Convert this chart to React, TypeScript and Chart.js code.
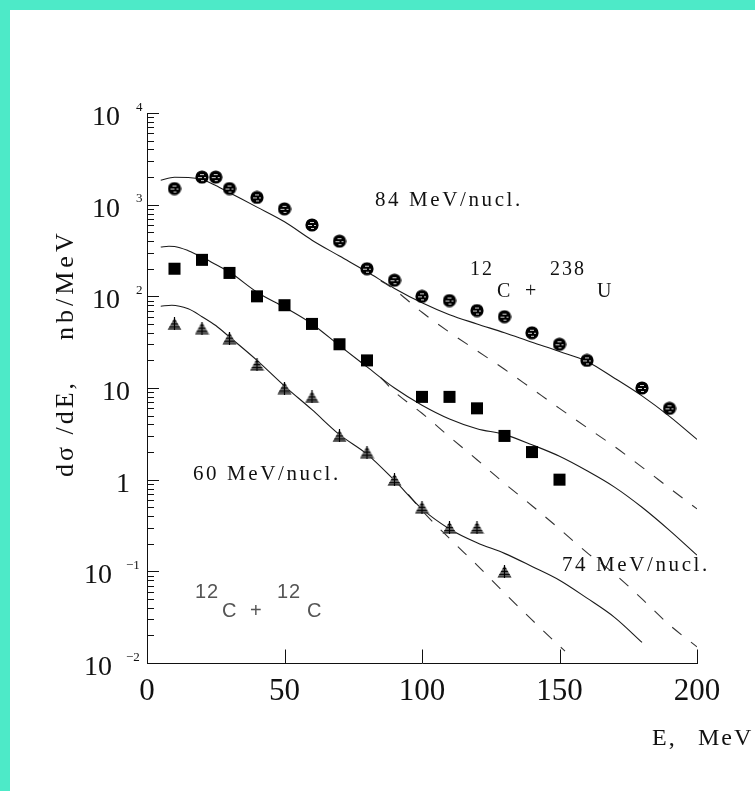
import React, { useEffect, useRef } from 'react';
import { Chart, registerables } from 'chart.js';
Chart.register(...registerables);

// ---- measured data points ----
const circleE = [10, 20, 25, 30, 40, 50, 60, 70, 80, 90, 100, 110, 120, 130, 140, 150, 160, 180, 190];
const circleV = [1500, 2000, 2000, 1500, 1200, 900, 600, 400, 200, 150, 100, 90, 70, 60, 40, 30, 20, 10, 6];
const squareE = [10, 20, 30, 40, 50, 60, 70, 80, 100, 110, 120, 130, 140, 150];
const squareV = [200, 250, 180, 100, 80, 50, 30, 20, 8, 8, 6, 3, 2, 1];
const triE = [10, 20, 30, 40, 50, 60, 70, 80, 90, 100, 110, 120, 130];
const triV = [50, 45, 35, 18, 10, 8, 3, 2, 1, 0.5, 0.3, 0.3, 0.1];

// ---- calculated curves (solid) ----
const topSolidE = [5, 10, 15, 20, 25, 30, 40, 50, 60, 70, 80, 90, 100, 110, 120, 130, 140, 150, 160, 170, 180, 190, 200];
const topSolidV = [1850, 1990, 1980, 1880, 1620, 1350, 940, 650, 410, 275, 185, 122, 85, 63, 50, 40, 31.5, 25, 19.5, 12.8, 8.2, 4.9, 2.75];
const midSolidE = [5, 8, 10, 15, 20, 25, 30, 40, 50, 60, 70, 80, 90, 100, 110, 120, 130, 140, 150, 160, 170, 180, 190, 200];
const midSolidV = [345, 352, 350, 315, 268, 222, 184, 111, 76, 50, 29, 17, 10, 6.5, 4.6, 3.6, 3.1, 2.4, 1.8, 1.25, 0.83, 0.5, 0.28, 0.15];
const lowSolidE = [5, 9, 15, 20, 25, 30, 40, 50, 60, 70, 80, 90, 100, 110, 120, 130, 140, 150, 160, 170, 180];
const lowSolidV = [78, 80, 73, 60, 48, 36, 20, 10.5, 5.8, 3.1, 1.9, 0.98, 0.48, 0.29, 0.205, 0.157, 0.113, 0.08, 0.051, 0.0315, 0.0168];

// ---- calculated curves (dashed) ----
const topDashE = [85, 90, 100, 110, 120, 130, 140, 150, 160, 170, 180, 190, 200];
const topDashV = [148, 118, 67, 40.5, 25.5, 16, 9.8, 6, 3.7, 2.3, 1.37, 0.81, 0.48];
const midDashE = [85, 90, 100, 110, 120, 130, 140, 150, 160, 170, 180, 190, 200];
const midDashV = [13, 9.1, 5.3, 2.94, 1.65, 0.91, 0.52, 0.29, 0.16, 0.094, 0.05, 0.026, 0.015];
const lowDashE = [95, 100, 110, 120, 130, 140, 150, 152];
const lowDashV = [0.69, 0.46, 0.228, 0.117, 0.058, 0.0295, 0.0153, 0.0135];

// ---- axis ticks ----
const yTickValues = [0.01, 0.1, 1, 10, 100, 1000, 10000];
const yTickBase = ['10', '10', '1', '10', '10', '10', '10'];
const yTickExp = ['\u22122', '\u22121', '', '', '2', '3', '4'];
const xTickValues = [0, 50, 100, 150, 200];
const xTickLabels = ['0', '50', '100', '150', '200'];

const SERIF = '"Liberation Serif", "Times New Roman", serif';
const SANS = '"Liberation Sans", Arial, sans-serif';

const pts = (xs: number[], ys: number[]) => xs.map((x, i) => ({ x, y: ys[i] }));

function makeCircle(): HTMLCanvasElement {
  const c = document.createElement('canvas');
  c.width = 14; c.height = 14;
  const g = c.getContext('2d')!;
  g.fillStyle = '#000';
  g.beginPath(); g.arc(7, 7, 6.6, 0, Math.PI * 2); g.fill();
  g.fillStyle = '#d0d0d0';
  const stripes = [[5, 4, 4], [3, 7, 4], [9, 7, 2], [6, 10, 3]];
  for (const [x, y, w] of stripes) g.fillRect(x, y, w, 1);
  return c;
}

function makeTriangle(): HTMLCanvasElement {
  const c = document.createElement('canvas');
  c.width = 15; c.height = 13;
  const g = c.getContext('2d')!;
  g.beginPath();
  g.moveTo(7.5, 0.5); g.lineTo(14.5, 12.5); g.lineTo(0.5, 12.5); g.closePath();
  g.fillStyle = '#6a6a6a'; g.fill();
  g.save(); g.clip();
  g.strokeStyle = '#000'; g.lineWidth = 1;
  for (const y of [3.5, 6.5, 9.5, 12]) {
    g.beginPath(); g.moveTo(0, y); g.lineTo(15, y); g.stroke();
  }
  g.beginPath(); g.moveTo(7.5, 0); g.lineTo(7.5, 13); g.stroke();
  g.restore();
  g.strokeStyle = '#000'; g.lineWidth = 1.2; g.stroke();
  return c;
}

const framePlugin = {
  id: 'frame',
  beforeDraw(chart: any) {
    const ctx = chart.ctx;
    ctx.save();
    ctx.fillStyle = '#4deac8';
    ctx.fillRect(0, 0, chart.width, chart.height);
    ctx.fillStyle = '#ffffff';
    ctx.fillRect(10, 10, chart.width - 10, chart.height - 10);
    ctx.restore();
  },
  afterDraw(chart: any) {
    const ctx = chart.ctx;
    const xs = chart.scales.x;
    const ys = chart.scales.y;
    const left = chart.chartArea.left;
    const bottom = chart.chartArea.bottom;
    ctx.save();
    ctx.strokeStyle = '#111';
    ctx.lineWidth = 1;
    // y ticks (major + minor)
    for (let k = -2; k <= 4; k++) {
      const py = Math.round(ys.getPixelForValue(Math.pow(10, k))) + 0.5;
      ctx.beginPath(); ctx.moveTo(left, py); ctx.lineTo(left + 12, py); ctx.stroke();
      if (k < 4) {
        for (let m = 2; m <= 9; m++) {
          const p = Math.round(ys.getPixelForValue(m * Math.pow(10, k))) + 0.5;
          ctx.beginPath(); ctx.moveTo(left, p); ctx.lineTo(left + 7, p); ctx.stroke();
        }
      }
    }
    // x ticks
    xTickValues.forEach((v) => {
      if (v === 0) return;
      const px = Math.round(xs.getPixelForValue(v)) + 0.5;
      ctx.beginPath(); ctx.moveTo(px, bottom); ctx.lineTo(px, bottom - 13.5); ctx.stroke();
    });

    ctx.fillStyle = '#111';
    ctx.textBaseline = 'alphabetic';
    // y tick labels
    yTickValues.forEach((v, i) => {
      const ty = ys.getPixelForValue(v);
      const exp = yTickExp[i];
      ctx.font = `28px ${SERIF}`;
      ctx.textAlign = 'right';
      if (!exp) {
        ctx.fillText(yTickBase[i], left - 17, ty + 12);
      } else if (exp.startsWith('\u2212')) {
        ctx.fillText(yTickBase[i], left - 35, ty + 12);
        ctx.font = `13px ${SERIF}`;
        ctx.textAlign = 'left';
        ctx.fillText(exp, left - 21, ty - 2.5);
      } else {
        ctx.fillText(yTickBase[i], left - 27, ty + 12);
        ctx.font = `13px ${SERIF}`;
        ctx.textAlign = 'left';
        ctx.fillText(exp, left - 11, ty - 2.5);
      }
    });
    // x tick labels
    ctx.font = `31px ${SERIF}`;
    ctx.textAlign = 'center';
    xTickValues.forEach((v, i) => {
      ctx.fillText(xTickLabels[i], xs.getPixelForValue(v), bottom + 37);
    });

    // x axis title
    ctx.textAlign = 'left';
    ctx.font = `24px ${SERIF}`;
    (ctx as any).letterSpacing = '2px';
    ctx.fillText('E,', 652, 745);
    ctx.fillText('MeV', 698, 745);

    // y axis title (rotated)
    ctx.font = `26px ${SERIF}`;
    (ctx as any).letterSpacing = '3px';
    ctx.save();
    ctx.translate(73, 477);
    ctx.rotate(-Math.PI / 2);
    ctx.fillText('d\u03c3 /dE,', 0, 0);
    ctx.restore();
    (ctx as any).letterSpacing = '4px';
    ctx.save();
    ctx.translate(73, 340);
    ctx.rotate(-Math.PI / 2);
    ctx.fillText('nb/MeV', 0, 0);
    ctx.restore();

    // annotations
    ctx.font = `21px ${SERIF}`;
    (ctx as any).letterSpacing = '2.6px';
    ctx.fillText('84 MeV/nucl.', 375, 205.5);
    ctx.fillText('60 MeV/nucl.', 193, 479.5);
    ctx.fillText('74 MeV/nucl.', 562, 570.5);

    ctx.font = `20px ${SERIF}`;
    (ctx as any).letterSpacing = '2px';
    ctx.fillText('12', 470, 275);
    ctx.fillText('C', 497, 296.5);
    ctx.fillText('+', 525, 296.5);
    ctx.fillText('238', 550, 275);
    ctx.fillText('U', 597, 296.5);

    ctx.fillStyle = '#555';
    ctx.font = `20px ${SANS}`;
    (ctx as any).letterSpacing = '1px';
    ctx.fillText('12', 195, 598);
    ctx.fillText('C', 222, 617);
    ctx.fillText('+', 250, 617);
    ctx.fillText('12', 277, 598);
    ctx.fillText('C', 307, 617);
    (ctx as any).letterSpacing = '0px';
    ctx.restore();
  },
};

export default function App() {
  const ref = useRef<HTMLCanvasElement | null>(null);
  useEffect(() => {
    if (!ref.current) return;
    const circleImg = makeCircle();
    const triImg = makeTriangle();
    const solid = (data: any) => ({
      data, showLine: true, borderColor: '#1a1a1a', borderWidth: 1.1, pointRadius: 0,
      cubicInterpolationMode: 'monotone', fill: false,
    });
    const dashed = (data: any) => ({ ...solid(data), borderDash: [12, 12], borderColor: '#333' });
    const chart = new Chart(ref.current, {
      type: 'scatter',
      data: {
        datasets: [
          { data: pts(circleE, circleV), pointStyle: circleImg as any, pointRadius: 7, showLine: false },
          { data: pts(squareE, squareV), pointStyle: 'rect', pointRadius: 8.5, backgroundColor: '#000', borderColor: '#000', borderWidth: 0, showLine: false },
          { data: pts(triE, triV), pointStyle: triImg as any, pointRadius: 7, showLine: false },
          solid(pts(topSolidE, topSolidV)),
          solid(pts(midSolidE, midSolidV)),
          solid(pts(lowSolidE, lowSolidV)),
          dashed(pts(topDashE, topDashV)),
          dashed(pts(midDashE, midDashV)),
          dashed(pts(lowDashE, lowDashV)),
        ] as any,
      },
      options: {
        animation: false,
        responsive: false,
        devicePixelRatio: 1,
        layout: { padding: { left: 147, top: 113, right: 58, bottom: 128 }, autoPadding: false },
        plugins: { legend: { display: false }, tooltip: { enabled: false } },
        events: [],
        scales: {
          x: {
            type: 'linear', min: 0, max: 200,
            grid: { display: false, drawTicks: false },
            ticks: { display: false },
            border: { display: true, color: '#111', width: 1 },
          },
          y: {
            type: 'logarithmic', min: 0.01, max: 10000,
            grid: { display: false, drawTicks: false },
            ticks: { display: false },
            border: { display: true, color: '#111', width: 1 },
          },
        },
      } as any,
      plugins: [framePlugin],
    });
    return () => chart.destroy();
  }, []);
  return (
    <div style={{ position: 'fixed', left: 0, top: 0, width: 755, height: 791 }}>
      <canvas ref={ref} width={755} height={791} style={{ display: 'block', width: 755, height: 791 }} />
    </div>
  );
}
